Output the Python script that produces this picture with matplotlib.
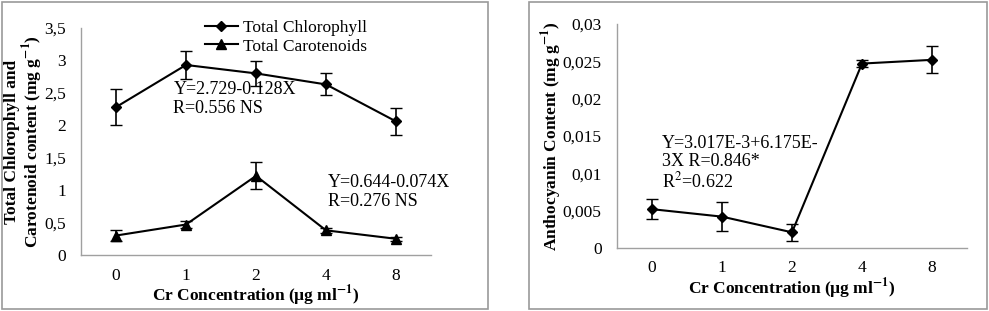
import numpy as np
import matplotlib.pyplot as plt
from matplotlib.patches import Rectangle
from matplotlib.lines import Line2D
from matplotlib.ticker import FuncFormatter

plt.rcParams['font.family'] = ['Liberation Serif', 'DejaVu Serif']
plt.rcParams['mathtext.fontset'] = 'stix'

# data
conc = ['0', '1', '2', '4', '8']
chl = [2.28, 2.93, 2.80, 2.63, 2.06]
chl_err = [0.28, 0.22, 0.19, 0.17, 0.21]
car = [0.30, 0.47, 1.22, 0.38, 0.25]
car_err = [0.08, 0.06, 0.21, 0.04, 0.03]
anth = [0.0052, 0.0042, 0.0021, 0.0247, 0.0252]
anth_err = [0.0013, 0.0019, 0.0011, 0.0005, 0.0018]

W, H = 989, 311
fig = plt.figure(figsize=(W / 100, H / 100), dpi=100)

# panel frames
for x0, x1 in [(2, 488), (529, 987)]:
    fig.patches.append(Rectangle((x0 / W, 2 / H), (x1 - x0) / W, (H - 4) / H,
                                 transform=fig.transFigure, fill=False,
                                 edgecolor='#9a9a9a', linewidth=1.2))


def comma_fmt(v, pos):
    s = ('%.3f' % v).rstrip('0').rstrip('.')
    return s.replace('.', ',')


def style_axes(ax):
    for s in ['top', 'right']:
        ax.spines[s].set_visible(False)
    for s in ['left', 'bottom']:
        ax.spines[s].set_color('#a0a0a0')
        ax.spines[s].set_linewidth(1.0)
    ax.tick_params(length=0, labelsize=12.5)
    ax.tick_params(axis='y', pad=11)
    ax.tick_params(axis='x', pad=9)
    ax.yaxis.set_major_formatter(FuncFormatter(comma_fmt))
    ax.set_xlim(-0.5, 4.5)
    ax.set_xticks(range(len(conc)))
    ax.set_xticklabels(conc)


x = np.arange(len(conc))
xlab = 'Cr Concentration (µg ml$^{\\mathbf{-1}}$)'

# left panel
ax1 = fig.add_axes([81 / W, 1 - 255 / H, 350 / W, 227 / H])
ax1.errorbar(x, chl, yerr=chl_err, color='black', marker='D', markersize=5.5,
             linewidth=1.5, capsize=4, elinewidth=1.2)
ax1.errorbar(x, car, yerr=car_err, color='black', marker='^', markersize=6.5,
             linewidth=1.5, capsize=4, elinewidth=1.2)
ax1.set_ylim(0, 3.5)
ax1.set_yticks(np.arange(0, 3.51, 0.5))
style_axes(ax1)
ax1.set_ylabel('Total Chlorophyll and\nCarotenoid content (mg g$^{\\mathbf{-1}}$)',
               fontsize=12.5, fontweight='bold', labelpad=-1, linespacing=1.05)
ax1.set_xlabel(xlab, fontsize=12.5, fontweight='bold', labelpad=0)
handles = [Line2D([], [], color='black', marker='D', markersize=5.5, linewidth=1.5),
           Line2D([], [], color='black', marker='^', markersize=6.5, linewidth=1.5)]
ax1.legend(handles, ['Total Chlorophyll', 'Total Carotenoids'], loc='center',
           bbox_to_anchor=(0.585, 0.96), frameon=False, fontsize=12.5,
           handlelength=1.9, handletextpad=0.3, labelspacing=0.15, borderpad=0)
ax1.text(0.264, 0.765, 'Y=2.729-0.128X\nR=0.556 NS', transform=ax1.transAxes,
         fontsize=13, va='top', ha='left', linespacing=1.1)
ax1.text(0.706, 0.355, 'Y=0.644-0.074X\nR=0.276 NS', transform=ax1.transAxes,
         fontsize=13, va='top', ha='left', linespacing=1.1)

# right panel
ax2 = fig.add_axes([617 / W, 1 - 248 / H, 350 / W, 224 / H])
ax2.errorbar(x, anth, yerr=anth_err, color='black', marker='D', markersize=5.5,
             linewidth=1.5, capsize=4, elinewidth=1.2)
ax2.set_ylim(0, 0.03)
ax2.set_yticks(np.arange(0, 0.0301, 0.005))
style_axes(ax2)
ax2.set_ylabel('Anthocyanin Content (mg g$^{\\mathbf{-1}}$)', fontsize=12.5,
               fontweight='bold', labelpad=-1)
ax2.set_xlabel(xlab, fontsize=12.5, fontweight='bold', labelpad=0)
ax2.text(0.129, 0.505, 'Y=3.017E-3+6.175E-\n3X R=0.846*\nR$^{2}$=0.622',
         transform=ax2.transAxes, fontsize=13, va='top', ha='left',
         linespacing=1.1)

fig.savefig('out.png', dpi=100)
